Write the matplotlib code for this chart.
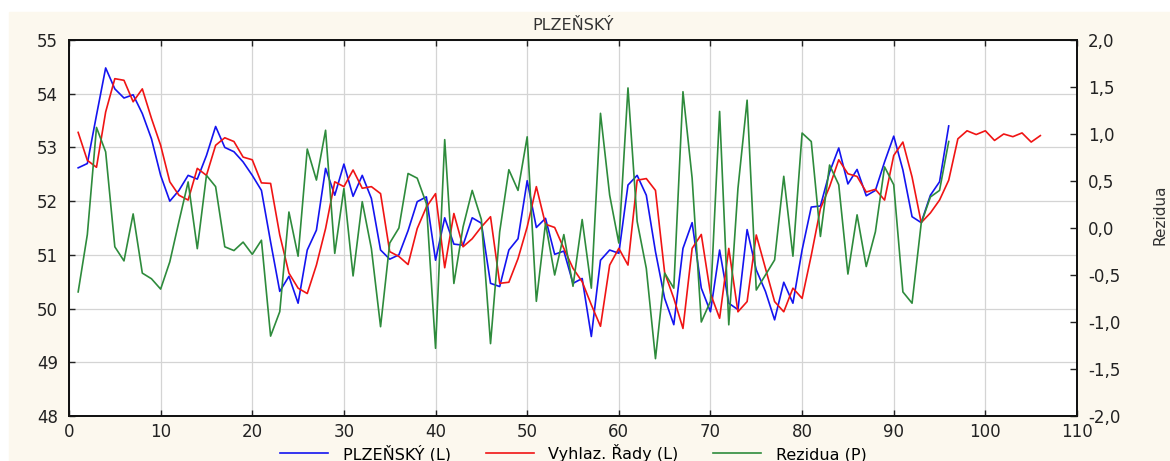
import numpy as np
import matplotlib
matplotlib.use("Agg")
import matplotlib.pyplot as plt
from matplotlib.patches import Rectangle
from matplotlib.ticker import FuncFormatter, MultipleLocator

plt.rcParams["font.family"] = ["DejaVu Sans"]

# PLZEŇSKÝ series (left axis), periods 1..96
plzensky = [
    52.62, 52.70, 53.60, 54.48, 54.09, 53.92, 53.98, 53.63, 53.16, 52.48,
    52.00, 52.20, 52.48, 52.41, 52.85, 53.39, 53.00, 52.92, 52.73, 52.48,
    52.20, 51.24, 50.32, 50.60, 50.10, 51.09, 51.46, 52.61, 52.11, 52.69,
    52.09, 52.48, 52.05, 51.09, 50.92, 51.00, 51.45, 51.99, 52.08, 50.90,
    51.69, 51.20, 51.18, 51.69, 51.59, 50.47, 50.41, 51.09, 51.30, 52.38,
    51.51, 51.68, 51.01, 51.07, 50.47, 50.56, 49.48, 50.90, 51.09, 51.03,
    52.30, 52.48, 52.11, 51.06, 50.19, 49.70, 51.12, 51.60, 50.38, 49.94,
    51.09, 50.10, 49.98, 51.47, 50.72, 50.32, 49.79, 50.49, 50.10, 51.09,
    51.89, 51.91, 52.54, 52.99, 52.32, 52.59, 52.10, 52.20, 52.73, 53.21,
    52.58, 51.71, 51.60, 52.11, 52.36, 53.40,
]

# smoothed series (left axis), periods 1..106 incl. forecast
vyhlaz = [
    53.28, 52.76, 52.63, 53.66, 54.28, 54.25, 53.85, 54.09, 53.54, 53.04,
    52.36, 52.11, 52.02, 52.61, 52.48, 53.04, 53.18, 53.11, 52.82, 52.77,
    52.34, 52.33, 51.37, 50.66, 50.38, 50.28, 50.81, 51.49, 52.36, 52.27,
    52.58, 52.24, 52.27, 52.14, 51.06, 50.97, 50.82, 51.49, 51.89, 52.14,
    50.76, 51.77, 51.15, 51.30, 51.52, 51.71, 50.47, 50.49, 50.93, 51.52,
    52.27, 51.57, 51.51, 51.12, 50.75, 50.50, 50.07, 49.67, 50.81, 51.12,
    50.81, 52.39, 52.42, 52.20, 50.67, 50.19, 49.63, 51.12, 51.38, 50.28,
    49.82, 51.12, 49.94, 50.13, 51.37, 50.75, 50.13, 49.94, 50.38, 50.19,
    50.99, 51.86, 52.27, 52.77, 52.51, 52.46, 52.17, 52.22, 52.02, 52.85,
    53.10, 52.45, 51.60, 51.78, 52.02, 52.39, 53.16, 53.31, 53.24, 53.31,
    53.13, 53.25, 53.20, 53.27, 53.10, 53.22,
]

# residuals (right axis), periods 1..96
rezidua = [
    -0.68, -0.07, 1.07, 0.81, -0.20, -0.35, 0.15, -0.48, -0.54, -0.65,
    -0.36, 0.07, 0.49, -0.22, 0.56, 0.44, -0.20, -0.24, -0.15, -0.28,
    -0.13, -1.15, -0.89, 0.17, -0.30, 0.84, 0.51, 1.04, -0.27, 0.42,
    -0.51, 0.28, -0.22, -1.05, -0.16, 0.00, 0.58, 0.53, 0.26, -1.28,
    0.94, -0.59, 0.01, 0.40, 0.09, -1.23, -0.04, 0.62, 0.40, 0.97,
    -0.78, 0.05, -0.50, -0.07, -0.62, 0.09, -0.64, 1.22, 0.35, -0.16,
    1.49, 0.07, -0.43, -1.39, -0.48, -0.64, 1.45, 0.53, -1.00, -0.78,
    1.24, -1.03, 0.42, 1.36, -0.66, -0.50, -0.34, 0.55, -0.30, 1.01,
    0.92, -0.09, 0.67, 0.46, -0.49, 0.14, -0.41, -0.04, 0.65, 0.46,
    -0.68, -0.80, 0.05, 0.33, 0.40, 0.92,
]

t_data = np.arange(1, len(plzensky) + 1)
t_smooth = np.arange(1, len(vyhlaz) + 1)
t_res = np.arange(1, len(rezidua) + 1)

fig = plt.figure(figsize=(11.7, 4.61), dpi=100, facecolor="white")

# cream panel behind everything, white strip at top and left
fig.patches.append(
    Rectangle((9 / 1170, 0), 1, 449 / 461,
              transform=fig.transFigure, color="#fcf8ee", zorder=-10)
)

ax = fig.add_axes([69 / 1170, 45 / 461, 1008 / 1170, 376 / 461])
ax.set_facecolor("white")

l1, = ax.plot(t_data, plzensky, color="#1414f0", lw=1.2,
              label="PLZEŇSKÝ (L)")
l2, = ax.plot(t_smooth, vyhlaz, color="#f01414", lw=1.2,
              label="Vyhlaz. Řady (L)")

ax.set_xlim(0, 110)
ax.set_ylim(48, 55)
ax.xaxis.set_major_locator(MultipleLocator(10))
ax.yaxis.set_major_locator(MultipleLocator(1))
ax.grid(True, color="#d4d4d4", lw=0.9)
ax.set_axisbelow(True)

ax.tick_params(axis="both", direction="in", length=4, width=1,
               top=True, labelsize=12, colors="#222222", pad=8)
ax.tick_params(axis="x", pad=5)

ax2 = ax.twinx()
l3, = ax2.plot(t_res, rezidua, color="#2e8b3c", lw=1.2,
               label="Rezidua (P)")
ax2.set_ylim(-2, 2)
ax2.yaxis.set_major_locator(MultipleLocator(0.5))
ax2.yaxis.set_major_formatter(
    FuncFormatter(lambda v, p: f"{v:.1f}".replace(".", ","))
)
ax2.tick_params(axis="y", direction="in", length=5, width=1,
                labelsize=12, colors="#222222", pad=8)

for a in (ax, ax2):
    for s in a.spines.values():
        s.set_color("#111111")
        s.set_linewidth(1.3)

ax.set_title("PLZEŇSKÝ", fontsize=11.5, color="#333333", pad=7)

fig.text(1160 / 1170, 1 - 215 / 461, "Rezidua", rotation=90,
         ha="center", va="center", fontsize=11, color="#333333")

fig.legend(
    handles=[l1, l2, l3],
    loc="center",
    bbox_to_anchor=(0.49, 8 / 461),
    ncol=3,
    frameon=False,
    fontsize=11.5,
    handlelength=3.0,
    handletextpad=0.9,
    columnspacing=2.2,
    borderpad=0.0,
)

plt.savefig("out.png", dpi=100, facecolor=fig.get_facecolor())
plt.close()
